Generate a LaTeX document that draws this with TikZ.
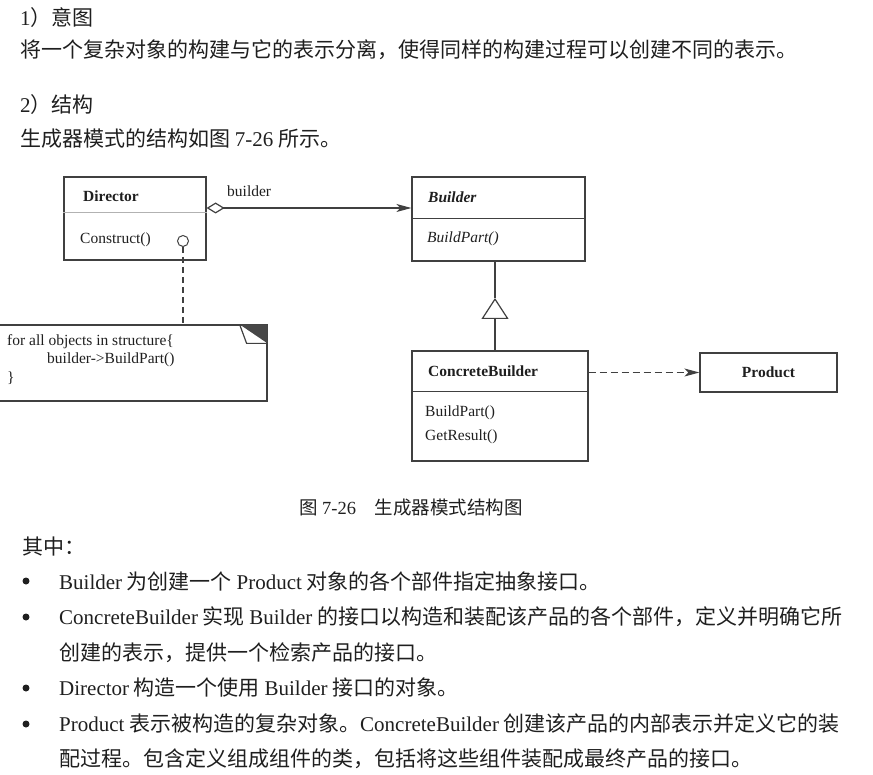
\documentclass[tikz,border=0pt]{standalone}
\usepackage{fontspec}
\setmainfont{Liberation Serif}
\newfontfamily\cjk{Noto Sans CJK SC}
\usepackage{xcolor}
\usepackage{tikz}
\usetikzlibrary{arrows.meta,calc,positioning}
\newcommand\en[1]{{\rmfamily #1}}

\tikzset{
	zhtext/.style={anchor=west,inner sep=0,text=black!88,
		font=\cjk\fontsize{21}{25}\selectfont},
	umltext/.style={anchor=west,inner sep=0,text=black!88,
		font=\fontsize{15.5}{18}\selectfont},
	classbox/.style={draw=black!75,line width=1.2pt,inner sep=0},
	umlline/.style={draw=black!75,line width=1.2pt},
	bulletdot/.style={circle,fill=black!88,inner sep=0,minimum size=7pt},
}

\begin{document}
\begin{tikzpicture}[x=1pt,y=-1pt]
	\useasboundingbox (0,0) rectangle (873,775);
	
	% intent and structure
	\node[zhtext] (head1) at (20,18) {\en{1}）意图};
	\node[zhtext] (intent) at (20,50) {将一个复杂对象的构建与它的表示分离，使得同样的构建过程可以创建不同的表示。};
	\node[zhtext] (head2) at (20,105) {\en{2}）结构};
	\node[zhtext] (struct) at (20,139) {生成器模式的结构如图 \en{7-26} 所示。};
	
	% classes
	\node[classbox,minimum width=142pt,minimum height=83pt] (director) at (135,218.5) {};
	\node[classbox,minimum width=173pt,minimum height=84pt] (builder) at (498.5,219) {};
	\node[classbox,minimum width=176pt,minimum height=110pt] (concrete) at (500,406) {};
	\node[classbox,minimum width=137pt,minimum height=39pt] (product) at (768.5,372.5) {};
	\node[classbox,minimum width=272pt,minimum height=76pt] (note) at (131,363) {};
	
	\draw[black!30,line width=0.7pt] ([yshift=-36pt]director.north west) -- ([yshift=-36pt]director.north east);
	\draw[umlline] ([yshift=-42pt]builder.north west) -- ([yshift=-42pt]builder.north east);
	\draw[umlline] ([yshift=-41pt]concrete.north west) -- ([yshift=-41pt]concrete.north east);
	
	\node[umltext,font=\bfseries\fontsize{15.5}{18}\selectfont] (dirname) at (83,196) {Director};
	\node[umltext] (construct) at (80,240) {Construct()};
	\node[umltext,font=\bfseries\itshape\fontsize{15.5}{18}\selectfont] (bname) at (428,197) {Builder};
	\node[umltext,font=\itshape\fontsize{15.5}{18}\selectfont] (bpart) at (427,239) {BuildPart()};
	\node[umltext,font=\bfseries\fontsize{15.5}{18}\selectfont] (cbname) at (428,371) {ConcreteBuilder};
	\node[umltext] (cbpart) at (425,413) {BuildPart()};
	\node[umltext] (cbresult) at (425,437) {GetResult()};
	\node[umltext,anchor=center,font=\bfseries\fontsize{15.5}{18}\selectfont] (pname) at (product) {Product};
	
	% note
	\fill[black!72] ([xshift=-28pt]note.north east) -- (note.north east) -- ([yshift=-19pt]note.north east) -- cycle;
	\draw[umlline] ([xshift=-28pt]note.north east) -- ([xshift=-21pt,yshift=-19pt]note.north east) -- ([yshift=-19pt]note.north east);
	\node[umltext] (loop) at (7,342) {for all objects in structure\{};
	\node[umltext] (call) at (47,360) {builder->BuildPart()};
	\node[umltext] (close) at (7,378) {\}};
	
	\node[circle,draw=black!75,line width=1pt,minimum size=11pt,inner sep=0] (hook) at (183,241) {};
	\draw[umlline,dash pattern=on 6pt off 4pt] (hook) -- (hook |- note.north);
	
	% connectors
	\draw[umlline,{Diamond[open,length=18pt,width=11pt]}-{Stealth[length=15pt,width=8pt,inset=4pt]}]
		([yshift=10.5pt]director.east) -- ([yshift=10.5pt]director.east -| builder.west);
	\node[umltext] (role) at (227,191) {builder};
	
	\coordinate (apex) at (495,298);
	\draw[umlline] (apex) -- (apex |- builder.south);
	\draw[umlline,-{Triangle[open,length=21pt,width=27pt]}] (apex |- concrete.north) -- (apex);
	
	\draw[umlline,dash pattern=on 7pt off 4pt,-{Stealth[length=15pt,width=8pt,inset=4pt]}]
		(concrete.east |- product.west) -- (product.west);
	
	% caption and notes
	\node[zhtext,anchor=center,font=\cjk\fontsize{18.5}{22}\selectfont] (caption) at (411,508) {图 \en{7-26}　生成器模式结构图};
	\node[zhtext] (where) at (22,547) {其中：};
	
	\foreach \y in {581,617,688,724}
		\node[bulletdot] at (26,\y) {};
	
	\node[zhtext] (item1) at (59,581) {\en{Builder} 为创建一个 \en{Product} 对象的各个部件指定抽象接口。};
	\node[zhtext] (item2) at (59,617) {\en{ConcreteBuilder} 实现 \en{Builder} 的接口以构造和装配该产品的各个部件，定义并明确它所};
	\node[zhtext] (item2b) at (59,653) {创建的表示，提供一个检索产品的接口。};
	\node[zhtext] (item3) at (59,688) {\en{Director} 构造一个使用 \en{Builder} 接口的对象。};
	\node[zhtext] (item4) at (59,724) {\en{Product} 表示被构造的复杂对象。\en{ConcreteBuilder} 创建该产品的内部表示并定义它的装};
	\node[zhtext] (item4b) at (59,759) {配过程。包含定义组成组件的类，包括将这些组件装配成最终产品的接口。};
\end{tikzpicture}
\end{document}
